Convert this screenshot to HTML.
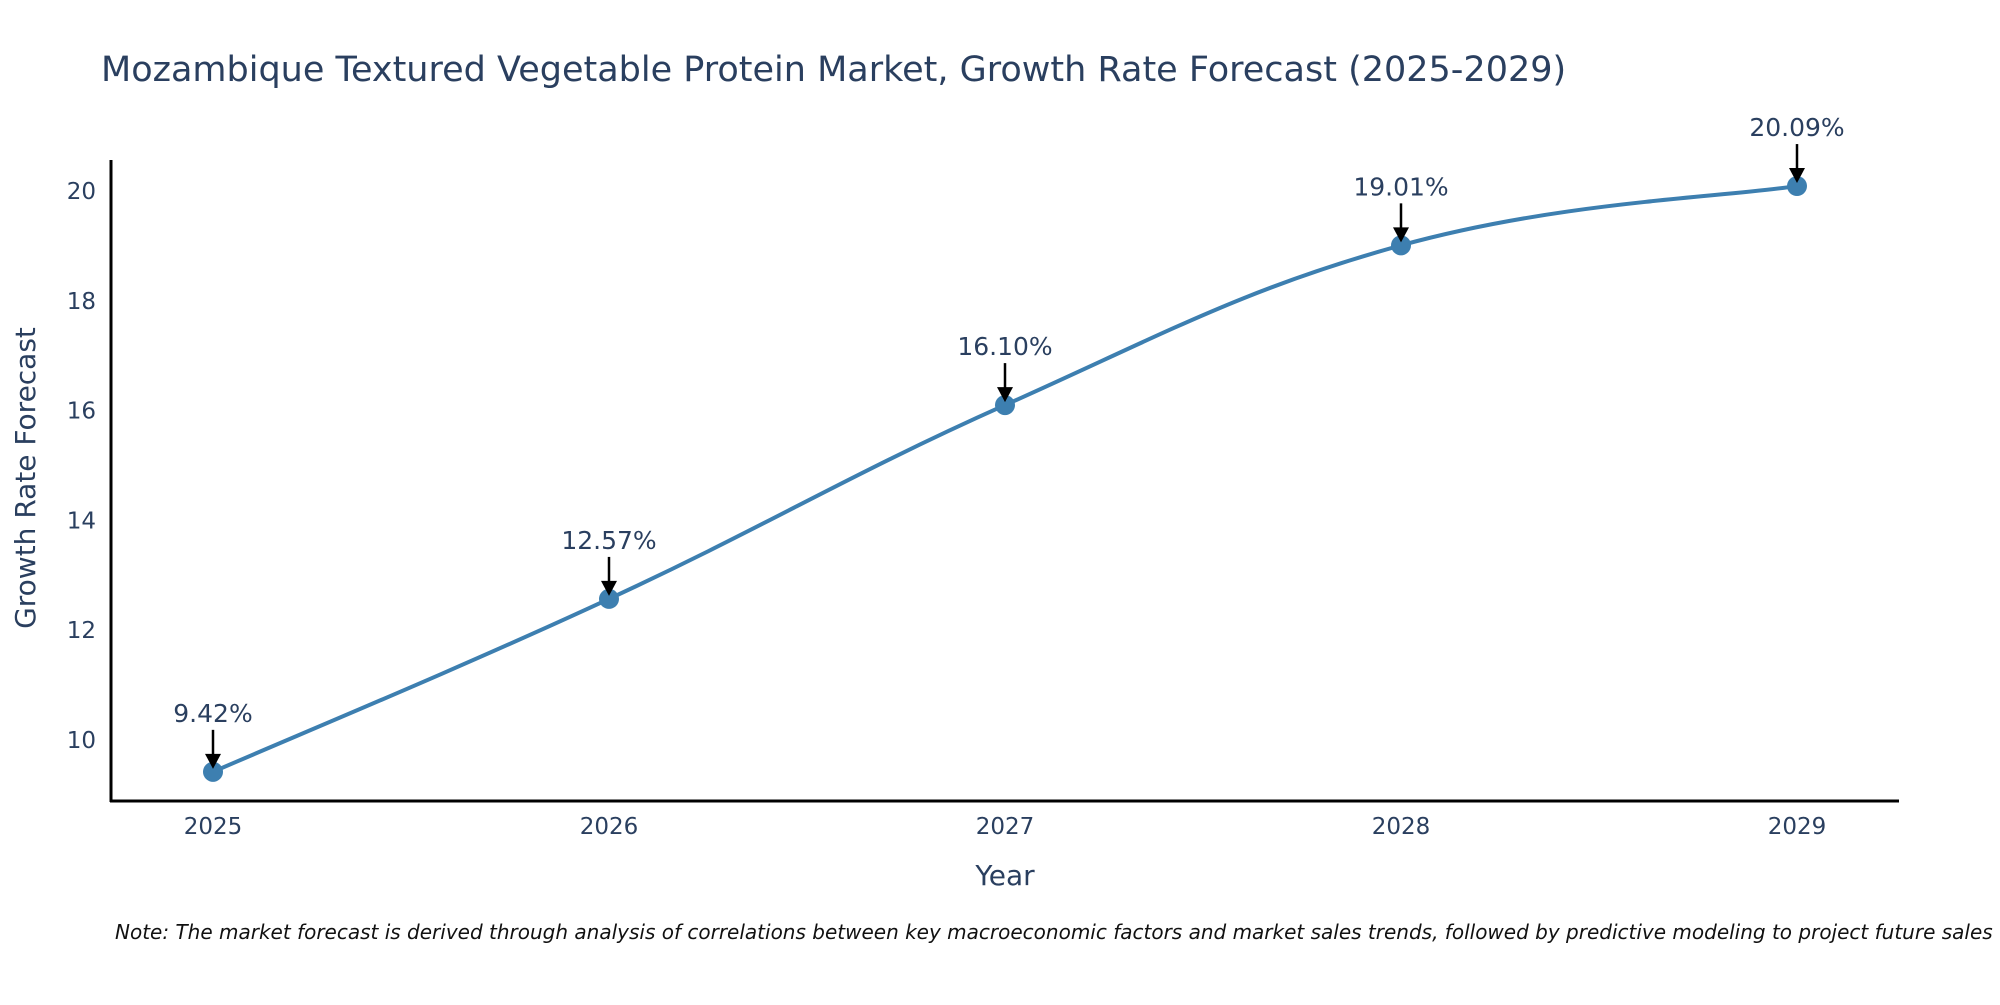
<!DOCTYPE html>
<html><head><meta charset="utf-8"><style>
body{margin:0;background:#fff;}
svg text{font-family:"DejaVu Sans","Liberation Sans",sans-serif;fill:#2a3f5f;}
</style></head><body>
<svg id="chart" width="2000" height="1000">
<text x="101" y="81" font-size="35">Mozambique Textured Vegetable Protein Market, Growth Rate Forecast (2025-2029)</text>
<g id="yticks"></g>
<g id="xticks"></g>
<line x1="111" y1="160" x2="111" y2="802" stroke="#000" stroke-width="3"/>
<line x1="110" y1="801" x2="1899" y2="801" stroke="#000" stroke-width="3"/>
<path id="line" fill="none" stroke="#3d7fb0" stroke-width="4"/>
<g id="marks"></g>
<text x="1005" y="885" font-size="28" text-anchor="middle">Year</text>
<text transform="translate(35,478) rotate(-90)" font-size="28" text-anchor="middle">Growth Rate Forecast</text>
<text x="115" y="939" font-size="20" font-style="italic" style="fill:#111">Note: The market forecast is derived through analysis of correlations between key macroeconomic factors and market sales trends, followed by predictive modeling to project future sales</text>
</svg>
<script>
const years=[2025,2026,2027,2028,2029];
const values=[9.42,12.57,16.10,19.01,20.09];
const labels=["9.42%","12.57%","16.10%","19.01%","20.09%"];
const yTicks=[10,12,14,16,18,20];
const NS="http://www.w3.org/2000/svg";
const xS=v=>213+(v-2025)*396;
const yS=v=>740-(v-10)*54.9;
const yt=document.getElementById('yticks');
yTicks.forEach(t=>{const e=document.createElementNS(NS,'text');


e.setAttribute('x',96);e.setAttribute('y',yS(t)+8);e.setAttribute('font-size','23');e.setAttribute('text-anchor','end');e.textContent=t;yt.appendChild(e);});
const xt=document.getElementById('xticks');
years.forEach(t=>{const e=document.createElementNS(NS,'text');


e.setAttribute('x',xS(t));e.setAttribute('y',834);e.setAttribute('font-size','23');e.setAttribute('text-anchor','middle');e.textContent=t;xt.appendChild(e);});
const P=years.map((y,i)=>[xS(y),yS(values[i])]);
let d='M'+P[0][0]+','+P[0][1];
for(let i=0;i<P.length-1;i++){const p0=P[Math.max(i-1,0)],p1=P[i],p2=P[i+1],p3=P[Math.min(i+2,P.length-1)];const k=0.2;
d+=' C'+(p1[0]+(p2[0]-p0[0])*k)+','+(p1[1]+(p2[1]-p0[1])*k)+' '+(p2[0]-(p3[0]-p1[0])*k)+','+(p2[1]-(p3[1]-p1[1])*k)+' '+p2[0]+','+p2[1];}
document.getElementById('line').setAttribute('d',d);
const mk=document.getElementById('marks');
P.forEach((p,i)=>{
const c=document.createElementNS(NS,'circle');


c.setAttribute('cx',p[0]);c.setAttribute('cy',p[1]);c.setAttribute('r',10);c.setAttribute('fill','#3d7fb0');mk.appendChild(c);
const l=document.createElementNS(NS,'line');


l.setAttribute('x1',p[0]);l.setAttribute('y1',p[1]-42);l.setAttribute('x2',p[0]);l.setAttribute('y2',p[1]-12);l.setAttribute('stroke','#000');l.setAttribute('stroke-width','2.5');mk.appendChild(l);
const a=document.createElementNS(NS,'path');


a.setAttribute('d',`M${p[0]-8},${p[1]-18} L${p[0]+8},${p[1]-18} L${p[0]},${p[1]-3} Z`);a.setAttribute('fill','#000');mk.appendChild(a);
const t=document.createElementNS(NS,'text');


t.setAttribute('x',p[0]);t.setAttribute('y',p[1]-50);t.setAttribute('font-size','25');t.setAttribute('text-anchor','middle');t.textContent=labels[i];mk.appendChild(t);
});
</script>
</body></html>
